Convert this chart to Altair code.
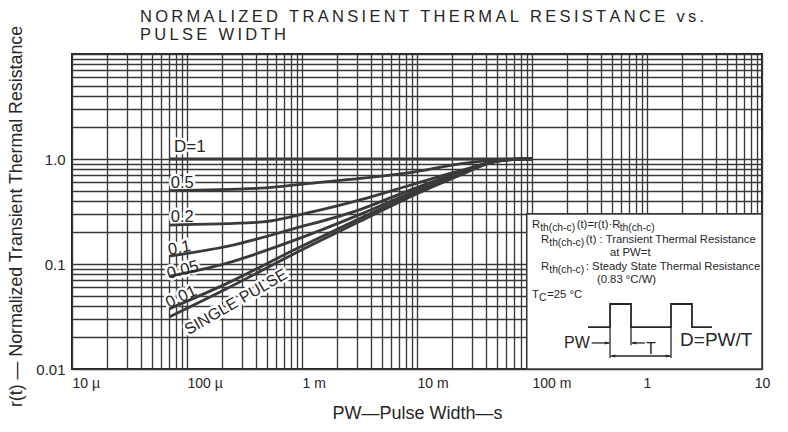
import altair as alt
import pandas as pd

# ---------------- curve data ----------------
pw_d1 = [7e-5, 0.1]
r_d1 = [1.0, 1.0]
pw_hi = [7e-5, 4.3e-4, 1.17e-3, 3.2e-3, 8.7e-3, 0.0237, 0.0458, 0.07, 0.1]
r_d05 = [0.50, 0.527, 0.587, 0.653, 0.742, 0.899, 0.975, 0.997, 1.0]
r_d02 = [0.235, 0.25, 0.31, 0.408, 0.562, 0.774, 0.93, 0.995, 1.0]
pw_lo = [7e-5, 2.23e-4, 8.4e-4, 3.2e-3, 8.7e-3, 0.0237, 0.0458, 0.075, 0.1]
r_d01 = [0.119, 0.147, 0.216, 0.330, 0.506, 0.75, 0.95, 0.995, 1.0]
r_d005 = [0.0764, 0.102, 0.167, 0.297, 0.474, 0.73, 0.945, 0.995, 1.0]
r_d001 = [0.0374, 0.0654, 0.135, 0.272, 0.454, 0.715, 0.94, 0.995, 1.0]
r_single = [0.0313, 0.0585, 0.124, 0.255, 0.435, 0.70, 0.935, 0.995, 1.0]

# curve labels
lab_text = ["D=1", "0.5", "0.2", "0.1", "0.05", "0.01", "SINGLE PULSE"]
lab_pw = [1.06e-4, 9.1e-5, 9.1e-5, 8.6e-5, 9.2e-5, 8.9e-5, 2.67e-4]
lab_r = [1.3, 0.59, 0.28, 0.142, 0.0877, 0.0485, 0.0435]
lab_angle = [0, 0, 0, 350, 345, 335, 330]
lab_size = [17, 16.5, 16.5, 16.5, 16.5, 16.5, 16]

# white note box
box_pw, box_pw2, box_r, box_r2 = [0.09], [10.0], [0.01], [0.3]

# note lines: (x, y, segments) ; 's' = subscript
NB = "\u00a0"
note_lines = [
    (0.100, 0.235, [("R", "n"), ("th(ch-c)", "s"), ("(t)=r(t)·R", "n"), ("th(ch-c)", "s")]),
    (0.120, 0.169, [("R", "n"), ("th(ch-c)", "s"), ("(t) : Transient Thermal Resistance", "n")]),
    (0.477, 0.127, [("at PW=t", "n")]),
    (0.120, 0.0936, [("R", "n"), ("th(ch-c)", "s"), (NB + ": Steady State Thermal Resistance", "n")]),
    (0.367, 0.0705, [("(0.83 °C/W)", "n")]),
    (0.100, 0.0507, [("T", "n"), ("C", "s"), ("=25 °C", "n")]),
]

# pulse diagram
wave_pw = [0.307, 0.477, 0.477, 0.726, 0.726, 1.617, 1.617, 2.46, 2.46, 3.67]
wave_r = [0.0251, 0.0251, 0.0416, 0.0416, 0.0251, 0.0251, 0.0416, 0.0416, 0.0251, 0.0251]
vr_pw = [0.477, 0.726, 1.617]
vr_top = [0.0251, 0.0251, 0.0251]
vr_bot = [0.0127, 0.0168, 0.0127]
hr_pw = [0.33, 0.74, 0.49]
hr_pw2 = [0.47, 0.96, 1.59]
hr_r = [0.0177, 0.0177, 0.0133]
ar_pw = [0.477, 0.726, 0.477, 1.617]
ar_r = [0.0177, 0.0177, 0.0133, 0.0133]
ar_dir = ["r", "l", "l", "r"]
dg_text = ["PW", "T", "D=PW/T"]
dg_pw = [0.246, 1.08, 1.94]
dg_r = [0.0177, 0.0156, 0.0189]
dg_size = [16, 16, 19]
dg_align = ["center", "center", "left"]

# title
title_lines = ["NORMALIZED TRANSIENT THERMAL RESISTANCE vs.", "PULSE WIDTH"]

# gridlines (log paper)
x_grid = [k * 10.0 ** e for e in range(-5, 1) for k in range(1, 10)] + [10.0]
y_grid = [k * 10.0 ** e for e in range(-2, 1) for k in range(1, 10)] + [10.0]

# ---------------- helpers ----------------
INK = "#262626"
GRID = "#383838"
SANS = "Liberation Sans"
PX_X = 690 / 6.0   # pixels per decade on x
PX_Y = 315 / 3.0   # pixels per decade on y

W = {'R': .722, 't': .278, 'h': .556, '(': .333, ')': .333, 'c': .5, '-': .333, '=': .584,
     'r': .333, '·': .278, ' ': .278, NB: .278, ':': .278, 'T': .611, 'a': .556, 'n': .556,
     's': .5, 'i': .222, 'e': .556, 'm': .833, 'l': .222, 'S': .667, 'y': .5, 'd': .556,
     '.': .278, '°': .4, 'C': .722, '/': .278, 'W': .944, 'P': .667}


def text_w(s, size):
    return sum(W.get(ch, .556) for ch in s) * size


MAIN, SUB = 11.3, 10.3
seg_rows = []
for (x0, y0, segs) in note_lines:
    off = 0.0
    for txt, kind in segs:
        fs = MAIN if kind == "n" else SUB
        yv = y0 if kind == "n" else y0 * 10 ** (-3.0 / PX_Y)
        seg_rows.append(dict(pw=x0 * 10 ** (off / PX_X), r=yv, t=txt, fs=fs))
        off += text_w(txt, fs) * (1.0 if kind == "n" else 1.03) + (0 if kind == "n" else 0.6)
seg_df = pd.DataFrame(seg_rows)

rows = []
for name, pws, rs in [("D=1", pw_d1, r_d1), ("0.5", pw_hi, r_d05), ("0.2", pw_hi, r_d02),
                      ("0.1", pw_lo, r_d01), ("0.05", pw_lo, r_d005), ("0.01", pw_lo, r_d001),
                      ("SINGLE PULSE", pw_lo, r_single)]:
    for i, (p, r) in enumerate(zip(pws, rs)):
        rows.append(dict(series=name, pw=p, r=r, i=i))
curves = pd.DataFrame(rows)

labels = pd.DataFrame(dict(t=lab_text, pw=lab_pw, r=lab_r, ang=lab_angle, fs=lab_size))

XL = ("abs(log(datum.value)/LN10 - round(log(datum.value)/LN10)) < 0.001 ? "
      "['10 µ','100 µ','1 m','10 m','100 m','1','10'][round(log(datum.value)/LN10)+5] : ''")
YL = ("abs(log(datum.value)/LN10 - round(log(datum.value)/LN10)) < 0.001 && "
      "round(log(datum.value)/LN10) <= 0 ? "
      "['0.01','0.1','1.0'][round(log(datum.value)/LN10)+2] : ''")

xs = alt.Scale(type="log", domain=[1e-5, 10], nice=False)
ys = alt.Scale(type="log", domain=[0.01, 10], nice=False)
x_axis = alt.Axis(values=x_grid, grid=True, gridColor=GRID, gridWidth=1.35, ticks=False,
                  domain=False, labelExpr=XL,
                  labelAlign={"condition": {"test": "datum.value > 0.5", "value": "center"},
                              "value": "left"},
                  labelFontSize=14, labelPadding=7, labelOverlap=False, labelBound=False,
                  labelFlush=False, title="PW—Pulse Width—s", titleFontSize=18,
                  titleFontWeight="normal", titlePadding=14)
y_axis = alt.Axis(values=y_grid, grid=True, gridColor=GRID, gridWidth=1.35, ticks=False,
                  domain=False, labelExpr=YL, labelFontSize=15, labelPadding=7,
                  labelOverlap=False, labelBound=False, labelFlush=False,
                  title="r(t) — Normalized Transient Thermal Resistance", titleFontSize=17.8,
                  titleFontWeight="normal", titlePadding=10, titleY=162)


def X(f="pw"):
    return alt.X(f"{f}:Q", scale=xs, axis=x_axis)


def Y(f="r"):
    return alt.Y(f"{f}:Q", scale=ys, axis=y_axis)


box = alt.Chart(pd.DataFrame(dict(pw=box_pw, pw2=box_pw2, r=box_r, r2=box_r2))).mark_rect(
    fill="white", stroke=GRID, strokeWidth=1.6
).encode(x=X(), x2="pw2:Q", y=Y(), y2="r2:Q")

halo = alt.Chart(labels).mark_text(font=SANS, color="white", stroke="white", strokeWidth=5,
                                   align="center", baseline="middle").encode(
    x=X(), y=Y(), text="t:N", angle=alt.Angle("ang:Q", scale=None),
    size=alt.Size("fs:Q", scale=None))

lines = alt.Chart(curves).mark_line(color="#3a3a3a", strokeWidth=2.8, interpolate="monotone").encode(
    x=X(), y=Y(), detail="series:N", order="i:Q")

lab = alt.Chart(labels).mark_text(font=SANS, color=INK, align="center", baseline="middle").encode(
    x=X(), y=Y(), text="t:N", angle=alt.Angle("ang:Q", scale=None),
    size=alt.Size("fs:Q", scale=None))

notes = alt.Chart(seg_df).mark_text(font=SANS, color=INK, align="left", baseline="middle").encode(
    x=X(), y=Y(), text="t:N", size=alt.Size("fs:Q", scale=None))

wave = alt.Chart(pd.DataFrame(dict(pw=wave_pw, r=wave_r, i=list(range(len(wave_pw)))))).mark_line(
    color=INK, strokeWidth=1.8).encode(x=X(), y=Y(), order="i:Q")

vrules = alt.Chart(pd.DataFrame(dict(pw=vr_pw, r=vr_bot, r2=vr_top))).mark_rule(
    color=INK, strokeWidth=1.3).encode(x=X(), y=Y(), y2="r2:Q")

hrules = alt.Chart(pd.DataFrame(dict(pw=hr_pw, pw2=hr_pw2, r=hr_r))).mark_rule(
    color=INK, strokeWidth=1.3).encode(x=X(), x2="pw2:Q", y=Y())

heads = alt.Chart(pd.DataFrame(dict(pw=ar_pw, r=ar_r, d=ar_dir))).mark_point(
    filled=True, color=INK, size=110, opacity=1).encode(
    x=X(), y=Y(),
    shape=alt.Shape("d:N", legend=None,
                    scale=alt.Scale(domain=["r", "l"],
                                    range=["M-1,-0.28L0,0L-1,0.28Z", "M1,-0.28L0,0L1,0.28Z"])))

dg_df = pd.DataFrame(dict(t=dg_text, pw=dg_pw, r=dg_r, fs=dg_size, al=dg_align))
dg = alt.Chart(dg_df).transform_filter("datum.al == 'center'").mark_text(
    font=SANS, color=INK, align="center", baseline="middle").encode(
    x=X(), y=Y(), text="t:N", size=alt.Size("fs:Q", scale=None))
dg2 = alt.Chart(dg_df).transform_filter("datum.al == 'left'").mark_text(
    font=SANS, color=INK, align="left", baseline="middle").encode(
    x=X(), y=Y(), text="t:N", size=alt.Size("fs:Q", scale=None))


def spaced(s):
    return "\u2009".join(list(s))


t1 = alt.Chart(pd.DataFrame({"t": [spaced(title_lines[0])]})).mark_text(
    font=SANS, fontSize=16.5, color=INK, align="left", baseline="middle").encode(
    text="t:N", x=alt.value(68), y=alt.value(-37))
t2 = alt.Chart(pd.DataFrame({"t": [spaced(title_lines[1])]})).mark_text(
    font=SANS, fontSize=16.5, color=INK, align="left", baseline="middle").encode(
    text="t:N", x=alt.value(68), y=alt.value(-19))

chart = alt.layer(box, halo, lines, lab, notes, wave, vrules, hrules, heads, dg, dg2, t1, t2).properties(
    width=690, height=315,
    autosize=alt.AutoSizeParams(type="none"),
    padding={"left": 64, "top": 46, "right": 18, "bottom": 55},
).configure_view(stroke="#222", strokeWidth=2).configure_axis(
    labelFont=SANS, titleFont=SANS, labelColor=INK, titleColor=INK)

chart.save("out.html", embed_options={"renderer": "svg", "actions": False})
